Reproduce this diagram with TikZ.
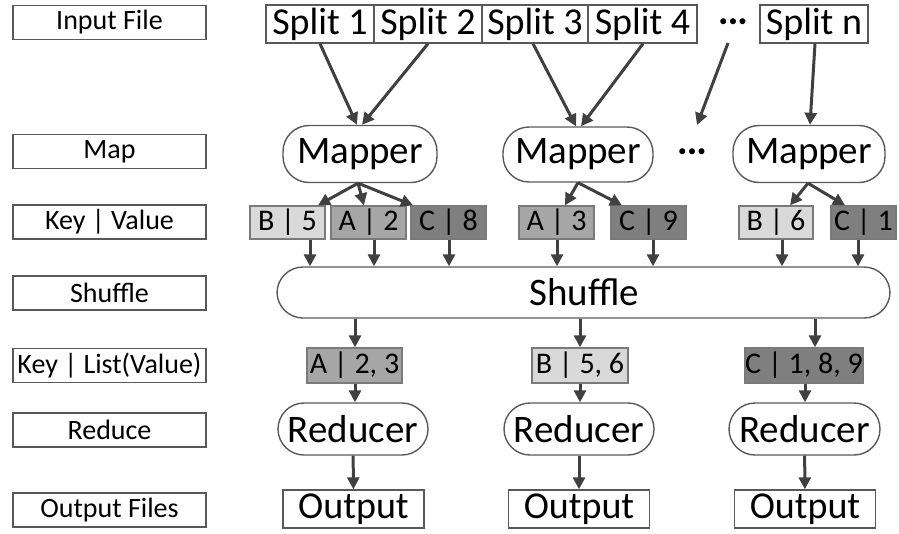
\documentclass[tikz,border=0pt]{standalone}
\usepackage{fontspec}
\setmainfont{Carlito}
\usetikzlibrary{arrows.meta,calc}

\definecolor{lineclr}{HTML}{404040}
\definecolor{boxclr}{HTML}{595959}
\definecolor{keyA}{HTML}{A6A6A6}
\definecolor{keyB}{HTML}{D9D9D9}
\definecolor{keyC}{HTML}{7F7F7F}

\tikzset{
  lbl/.style={draw=boxclr, line width=1.4pt, minimum width=193pt, minimum height=34pt,
    inner sep=0pt, font=\fontsize{28}{30}\selectfont},
  splitbox/.style={draw=boxclr, line width=1.4pt, minimum height=38pt, inner sep=0pt,
    font=\fontsize{38}{40}\selectfont},
  worker/.style={draw=boxclr, line width=1.4pt, rounded corners=26pt, inner sep=0pt,
    font=\fontsize{39}{41}\selectfont},
  kv/.style={draw=boxclr!80, line width=1.4pt, minimum height=33pt, inner sep=0pt,
    font=\fontsize{30}{32}\selectfont},
  outbox/.style={draw=boxclr, line width=1.4pt, minimum width=141pt, minimum height=38pt,
    inner sep=0pt, font=\fontsize{38}{40}\selectfont},
  arr/.style={draw=lineclr, line width=3pt, -{Triangle[length=12pt,width=12pt]}},
  dotsmark/.style={inner sep=0pt, font=\fontsize{17}{17}\selectfont},
}

\begin{document}
\begin{tikzpicture}[x=1pt,y=-1pt]
\useasboundingbox (0,0) rectangle (899,533);

% stage labels
\node[lbl] (lInput)   at (109.5,22.5) {Input File};
\node[lbl] (lMap)     at (109.5,151.5) {Map};
\node[lbl] (lKV)      at (109.5,222) {Key | Value};
\node[lbl] (lShuffle) at (109.5,293) {Shuffle};
\node[lbl] (lKL)      at (109.5,365.5) {Key | List(Value)};
\node[lbl] (lReduce)  at (109.5,430) {Reduce};
\node[lbl] (lOut)     at (109.5,510) {Output Files};

% input splits
\node[splitbox, minimum width=108pt] (s1) at (320,24) {Split 1};
\node[splitbox, minimum width=108pt] (s2) at (428,24) {Split 2};
\node[splitbox, minimum width=106pt] (s3) at (535,24) {Split 3};
\node[splitbox, minimum width=109pt] (s4) at (642.5,24) {Split 4};
\node[dotsmark] (sdots) at (733,23) {•\kern1.2pt•\kern1.2pt•};
\node[splitbox, minimum width=108pt] (sn) at (814,24) {Split n};

% mappers
\node[worker, minimum width=154pt, minimum height=57pt] (m1) at (360,154) {Mapper};
\node[worker, minimum width=150pt, minimum height=55pt] (m2) at (578,154.5) {Mapper};
\node[dotsmark] (mdots) at (692,153) {•\kern1.2pt•\kern1.2pt•};
\node[worker, minimum width=152pt, minimum height=57pt] (m3) at (809,154) {Mapper};

% intermediate key/value pairs
\node[kv, fill=keyB, minimum width=75pt] (b5) at (287.5,222.5) {B | 5};
\node[kv, fill=keyA, minimum width=75pt] (a2) at (368.5,222.5) {A | 2};
\node[kv, fill=keyC, minimum width=75pt] (c8) at (448.5,222.5) {C | 8};
\node[kv, fill=keyA, minimum width=75pt] (a3) at (556.5,222.5) {A | 3};
\node[kv, fill=keyC, minimum width=75pt] (c9) at (648.5,222.5) {C | 9};
\node[kv, fill=keyB, minimum width=74pt] (b6) at (776,222.5) {B | 6};
\node[kv, fill=keyC, minimum width=65pt] (c1) at (863.5,222.5) {C | 1};

% shuffle stage
\node[worker, minimum width=613pt, minimum height=51pt] (sh) at (583.5,292.5) {\hspace*{2pt}Shuffle};

% grouped values
\node[kv, fill=keyA, minimum width=95pt, minimum height=35pt] (ga) at (354.5,365.5) {A | 2, 3};
\node[kv, fill=keyB, minimum width=96pt, minimum height=35pt] (gb) at (580,365.5) {B | 5, 6};
\node[kv, fill=keyC, minimum width=118pt, minimum height=35pt] (gc) at (804,365.5) {C | 1, 8, 9};

% reducers
\node[worker, minimum width=150pt, minimum height=52pt] (r1) at (353,429) {Reducer};
\node[worker, minimum width=150pt, minimum height=52pt] (r2) at (579,429) {Reducer};
\node[worker, minimum width=151pt, minimum height=52pt] (r3) at (804.5,429) {Reducer};

% outputs
\node[outbox] (o1) at (353.5,509) {Output};
\node[outbox] (o2) at (579,509) {Output};
\node[outbox] (o3) at (805,509) {Output};

% splits to mappers
\coordinate (dfree) at (728,43);
\draw[arr] (s1.south -| 320,0) -- (m1.north -| 357,0);
\draw[arr] (s2.south -| 428,0) -- (m1.north -| 362,0);
\draw[arr] (s3.south -| 533,0) -- (m2.north -| 576,0);
\draw[arr] (s4.south -| 643,0) -- (m2.north -| 581,0);
\draw[arr] (dfree) -- (697,125);
\draw[arr] (sn.south -| 815,0) -- (m3.north -| 810,0);

% mappers to key/value pairs
\draw[arr] (m1.south -| 358,0) -- (b5.north -| 318,0);
\draw[arr] (m1.south -| 358,0) -- (a2.north -| 364,0);
\draw[arr] (m1.south -| 358,0) -- (c8.north -| 413,0);
\draw[arr] (m2.south -| 578,0) -- (a3.north -| 565,0);
\draw[arr] (m2.south -| 578,0) -- (c9.north -| 622,0);
\draw[arr] (m3.south -| 808,0) -- (b6.north -| 790,0);
\draw[arr] (m3.south -| 808,0) -- (c1.north -| 845,0);

% key/value pairs into shuffle
\foreach \n/\x in {b5/310, a2/374, c8/449, a3/557, c9/653, b6/782, c1/858}
  \draw[arr] (\n.south -| \x,0) -- (sh.north -| \x,0);

% shuffle to groups
\draw[arr] (sh.south -| 355,0) -- (ga.north -| 355,0);
\draw[arr] (sh.south -| 580,0) -- (gb.north -| 580,0);
\draw[arr] (sh.south -| 815,0) -- (gc.north -| 815,0);

% groups to reducers
\draw[arr] (ga.south -| 355,0) -- (r1.north -| 355,0);
\draw[arr] (gb.south -| 580,0) -- (r2.north -| 580,0);
\draw[arr] (gc.south -| 805,0) -- (r3.north -| 805,0);

% reducers to outputs
\draw[arr] (r1) -- (o1);
\draw[arr] (r2) -- (o2);
\draw[arr] (r3) -- (o3);
\end{tikzpicture}
\end{document}
